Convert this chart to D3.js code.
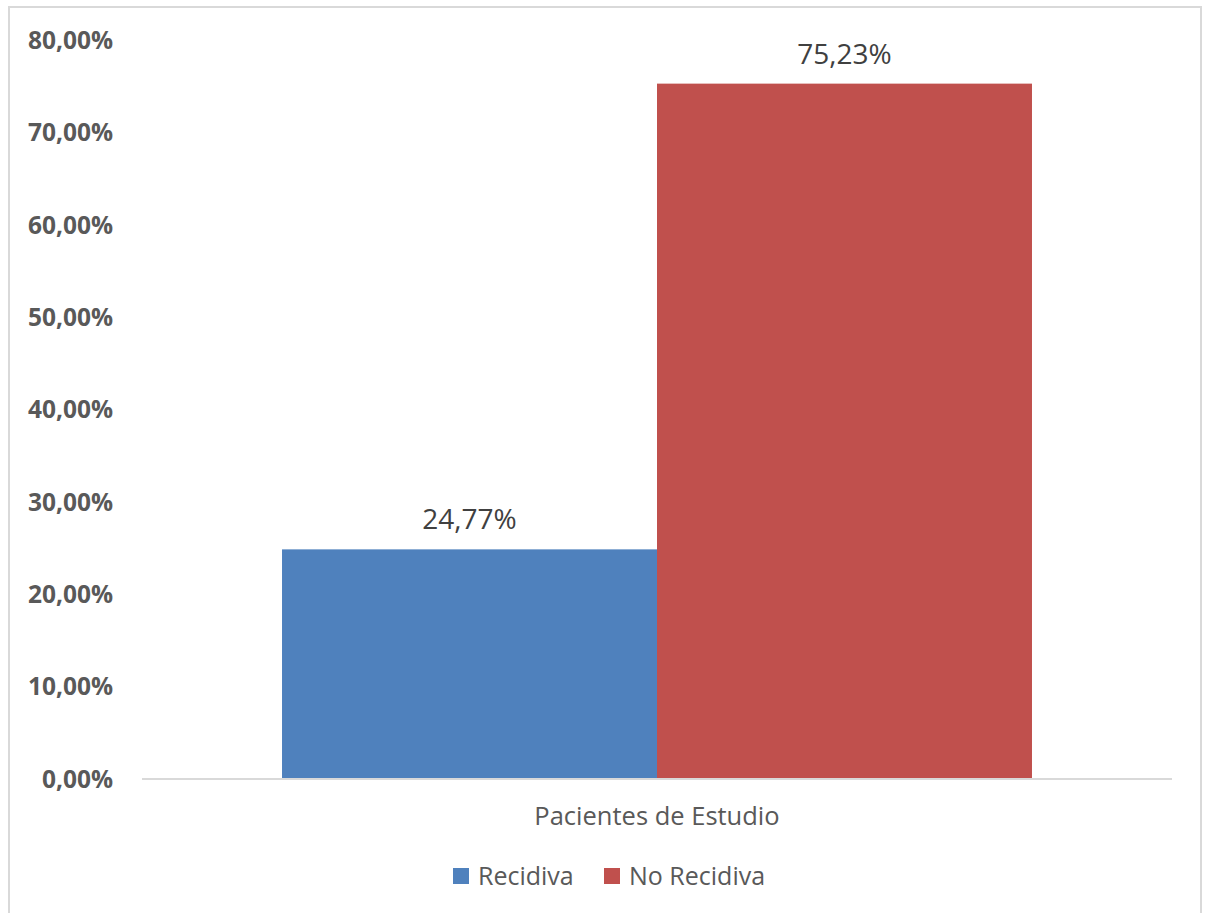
<!DOCTYPE html>
<html>
<head>
<meta charset="utf-8">
<script src="https://cdn.jsdelivr.net/npm/d3@7"></script>
<style>
  body { margin: 0; background: #fff; }
  text { font-family: "Open Sans", sans-serif; }
</style>
</head>
<body>
<div id="chart"></div>
<script>
const categories = ["Pacientes de Estudio"];
const series = ["Recidiva", "No Recidiva"];
const values = [0.2477, 0.7523];
const colors = ["#4f81bd", "#c0504d"];
const yTicks = [0, 0.1, 0.2, 0.3, 0.4, 0.5, 0.6, 0.7, 0.8];

const width = 1210, height = 913;
const fmt = v => (v * 100).toFixed(2).replace(".", ",") + "%";

const svg = d3.select("#chart").append("svg")
    .attr("width", width)
    .attr("height", height);

// chart border
svg.append("rect")
    .attr("x", 9).attr("y", 7)
    .attr("width", 1192).attr("height", 930)
    .attr("fill", "none")
    .attr("stroke", "#d9d9d9")
    .attr("stroke-width", 2);

const y = d3.scaleLinear().domain([0, 0.8]).range([778, 39.6]);

const x0 = d3.scaleBand()
    .domain(categories)
    .range([142, 1172])
    .paddingInner(0)
    .paddingOuter(0.1867);

const x1 = d3.scaleBand()
    .domain(series)
    .range([0, x0.bandwidth()]);

// y labels
svg.selectAll(".ylab")
    .data(yTicks)
    .enter().append("text")
    .attr("x", 113)
    .attr("y", d => y(d))
    .attr("text-anchor", "end")
    .attr("dominant-baseline", "central")
    .style("font-size", "24.5px")
    .style("font-weight", "bold")
    .style("fill", "#595959")
    .text(fmt);

// bars
const data = series.map((s, i) => ({ cat: categories[0], s: s, v: values[i], c: colors[i] }));

svg.selectAll(".bar")
    .data(data)
    .enter().append("rect")
    .attr("x", d => x0(d.cat) + x1(d.s))
    .attr("y", d => y(d.v))
    .attr("width", x1.bandwidth())
    .attr("height", d => y(0) - y(d.v))
    .attr("fill", d => d.c);

// data labels
svg.selectAll(".dlab")
    .data(data)
    .enter().append("text")
    .attr("x", d => x0(d.cat) + x1(d.s) + x1.bandwidth() / 2)
    .attr("y", d => y(d.v) - 20)
    .attr("text-anchor", "middle")
    .style("font-size", "28px")
    .style("fill", "#404040")
    .text(d => fmt(d.v));

// x axis line
svg.append("line")
    .attr("x1", 142).attr("x2", 1172)
    .attr("y1", y(0) + 1).attr("y2", y(0) + 1)
    .attr("stroke", "#d9d9d9")
    .attr("stroke-width", 2);

// category label
svg.selectAll(".xlab")
    .data(categories)
    .enter().append("text")
    .attr("x", d => x0(d) + x0.bandwidth() / 2)
    .attr("y", 825)
    .attr("text-anchor", "middle")
    .style("font-size", "25.5px")
    .style("fill", "#595959")
    .text(d => d);

// legend
const legendX = [453, 604];
const legend = svg.selectAll(".leg")
    .data(series)
    .enter().append("g")
    .attr("transform", (d, i) => `translate(${legendX[i]},868)`);

legend.append("rect")
    .attr("width", 16).attr("height", 16)
    .attr("fill", (d, i) => colors[i]);

legend.append("text")
    .attr("x", 25).attr("y", 17)
    .style("font-size", "25px")
    .style("fill", "#595959")
    .text(d => d);
</script>
</body>
</html>
